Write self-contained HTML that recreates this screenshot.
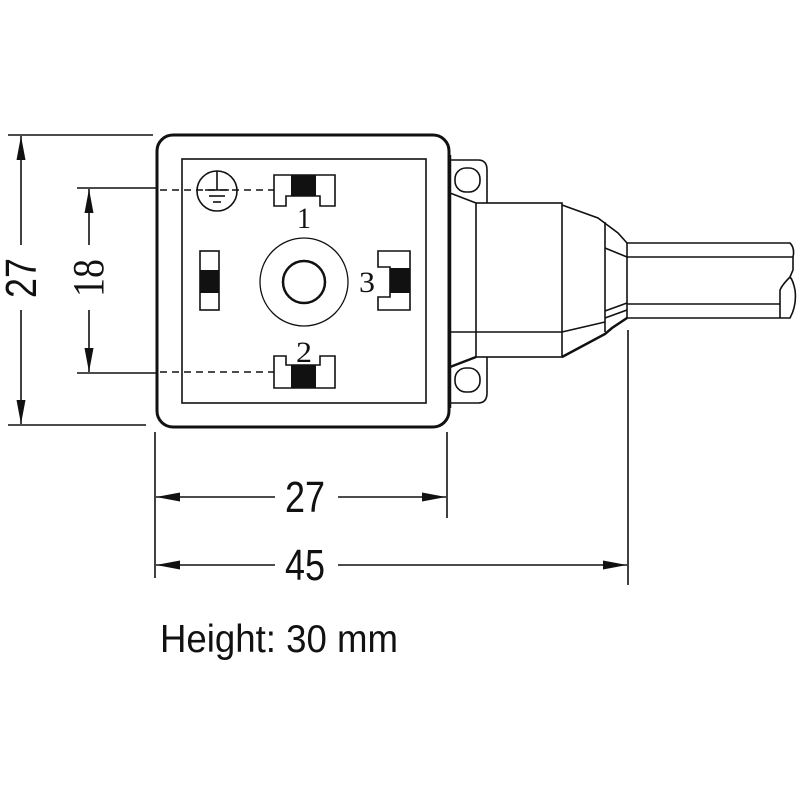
<!DOCTYPE html>
<html><head><meta charset="utf-8"><style>html,body{margin:0;padding:0;background:#fff}svg{display:block}</style></head><body>
<svg width="800" height="800" viewBox="0 0 800 800" xmlns="http://www.w3.org/2000/svg" font-family="Liberation Sans, sans-serif">
<rect width="800" height="800" fill="#fff"/>
<defs>
<marker id="a" viewBox="0 0 24 12" refX="24" refY="6" markerWidth="24" markerHeight="12" markerUnits="userSpaceOnUse" orient="auto"><path d="M0,1.5 L24,6 L0,10.5 Z" fill="#111"/></marker>
<marker id="b" viewBox="0 0 24 12" refX="0" refY="6" markerWidth="24" markerHeight="12" markerUnits="userSpaceOnUse" orient="auto"><path d="M24,1.5 L0,6 L24,10.5 Z" fill="#111"/></marker>
</defs>
<g stroke="#111" fill="none" stroke-width="1.6">
<line x1="8" y1="135" x2="153" y2="135"/><line x1="8" y1="425" x2="146" y2="425"/>
<line x1="77" y1="188" x2="158" y2="188"/><line x1="77" y1="373" x2="158" y2="373"/>
<line x1="155" y1="432" x2="155" y2="578"/><line x1="447" y1="432" x2="447" y2="518"/><line x1="628" y1="330" x2="628" y2="585"/>
<line x1="21" y1="136" x2="21" y2="245" marker-start="url(#b)"/><line x1="21" y1="310" x2="21" y2="424" marker-end="url(#a)"/>
<line x1="89" y1="189" x2="89" y2="245" marker-start="url(#b)"/><line x1="89" y1="310" x2="89" y2="372" marker-end="url(#a)"/>
<line x1="156" y1="497" x2="275" y2="497" marker-start="url(#b)"/><line x1="338" y1="497" x2="446" y2="497" marker-end="url(#a)"/>
<line x1="156" y1="565" x2="275" y2="565" marker-start="url(#b)"/><line x1="338" y1="565" x2="627" y2="565" marker-end="url(#a)"/>
<rect x="157" y="135" width="292" height="292" rx="16" stroke-width="3"/>
<rect x="182" y="159" width="244" height="244"/>
<path d="M450,160 L478,160 Q487,160 487,170 L487,203"/><path d="M450,193 L476,203"/>
<rect x="455" y="168" width="25" height="24" rx="11"/>
<path d="M450,403 L478,403 Q487,403 487,393 L487,357"/><path d="M450,367 L476,357" stroke-width="2.5"/>
<rect x="455" y="368" width="25" height="24" rx="11"/>
<line x1="450" y1="155" x2="450" y2="408" stroke-width="2.5"/>
<rect x="476" y="203" width="86" height="154"/>
<line x1="450" y1="332" x2="562" y2="332"/>
<path d="M562,205 L598,218 L606,224 L618,233 L627,243"/>
<path d="M562,357 L605,334 L612,328 L627,318" stroke-width="2.5"/>
<path d="M562,332 L605,322"/><path d="M605,248 L627,257"/><path d="M605,311 L627,303"/><path d="M605,318 L627,310"/>
<line x1="605" y1="222" x2="605" y2="332"/><line x1="627" y1="243" x2="627" y2="318"/>
<path d="M627,243 L790,243 Q795,248 793,257 L627,257"/>
<line x1="627" y1="304" x2="780" y2="304"/>
<path d="M627,318 L790,318 Q797,305 795,290 Q793,280 790,277 Q782,285 780,290 L780,318"/>
<path d="M793,257 L793,270 L790,277"/>
<line x1="160" y1="190" x2="274" y2="190" stroke-dasharray="7,5"/>
<line x1="160" y1="372" x2="274" y2="372" stroke-dasharray="7,5"/>
<circle cx="217" cy="191" r="20"/>
<line x1="217" y1="171" x2="217" y2="190"/><line x1="205" y1="190" x2="229" y2="190"/><line x1="209" y1="196" x2="225" y2="196"/><line x1="213" y1="202" x2="221" y2="202"/>
<path d="M274,175 L335,175 L335,206 L320,206 L320,196 L286,196 L286,206 L274,206 Z"/>
<path d="M274,388 L335,388 L335,356 L320,356 L320,365 L286,365 L286,356 L274,356 Z"/>
<rect x="200" y="251" width="19" height="59"/>
<path d="M378,251 L410,251 L410,310 L378,310 L378,297 L390,297 L390,267 L378,267 Z"/>
<circle cx="304" cy="282" r="44" stroke-width="1.3"/>
<circle cx="304" cy="282" r="21" stroke-width="2.5"/>
</g>
<g fill="#111">
<rect x="291" y="175" width="25" height="21"/>
<rect x="291" y="365" width="25" height="23"/>
<rect x="200" y="270" width="19" height="23"/>
<rect x="390" y="268" width="20" height="25"/>
</g>
<g fill="#111" font-family="Liberation Serif, serif" font-size="30" text-anchor="middle">
<text x="304" y="228" textLength="14" lengthAdjust="spacingAndGlyphs">1</text><text x="304" y="362" textLength="16" lengthAdjust="spacingAndGlyphs">2</text><text x="367" y="292" textLength="16" lengthAdjust="spacingAndGlyphs">3</text>
</g>
<g fill="#111" font-size="44" text-anchor="middle">
<text x="305" y="512" textLength="40" lengthAdjust="spacingAndGlyphs">27</text>
<text x="305" y="580" textLength="40" lengthAdjust="spacingAndGlyphs">45</text>
<text transform="translate(36,278) rotate(-90)" textLength="40" lengthAdjust="spacingAndGlyphs">27</text>
<text transform="translate(103,278) rotate(-90)" font-family="Liberation Serif, serif" textLength="38" lengthAdjust="spacingAndGlyphs">18</text>
</g>
<text x="160" y="652" font-size="39" fill="#111" textLength="238" lengthAdjust="spacingAndGlyphs">Height: 30 mm</text>
</svg>
</body></html>
